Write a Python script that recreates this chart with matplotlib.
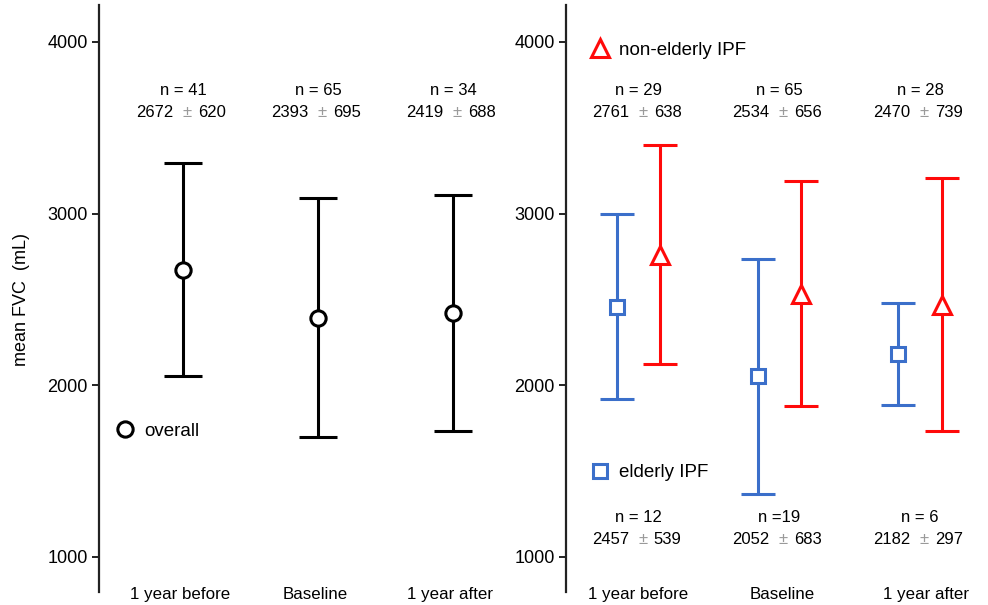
import matplotlib
matplotlib.use("Agg")
import matplotlib.pyplot as plt
from matplotlib.lines import Line2D
from matplotlib.transforms import offset_copy

plt.rcParams['font.family'] = ['Liberation Sans', 'DejaVu Sans']

# ---- data ----
categories = ["1 year before", "Baseline", "1 year after"]
overall_mean = [2672, 2393, 2419]
overall_sd = [620, 695, 688]
overall_n = [41, 65, 34]

elderly_mean = [2457, 2052, 2182]
elderly_sd = [539, 683, 297]
elderly_n_labels = ["n = 12", "n =19", "n = 6"]

nonelderly_mean = [2761, 2534, 2470]
nonelderly_sd = [638, 656, 739]
nonelderly_n = [29, 65, 28]

yticks = [1000, 2000, 3000, 4000]

BLUE = '#3b6fca'
RED = '#ff0a0a'
GRAY_PM = '#9a9a9a'
ANN_FS = 12

fig = plt.figure(figsize=(9.88, 6.05), dpi=100)
H = 605.0
W = 988.0
ax_bottom = (H - 592) / H
ax_height = (592 - 5) / H
axL = fig.add_axes([99 / W, ax_bottom, (520 - 99) / W, ax_height])
axR = fig.add_axes([566 / W, ax_bottom, (985 - 566) / W, ax_height])

ylim = (796, 4215)

def style_axis(ax):
    ax.set_ylim(*ylim)
    for s in ['top', 'right', 'bottom']:
        ax.spines[s].set_visible(False)
    ax.spines['left'].set_linewidth(1.6)
    ax.spines['left'].set_color('#222222')
    ax.set_yticks(yticks)
    ax.set_yticklabels([str(t) for t in yticks], fontsize=13)
    ax.tick_params(axis='y', length=5, width=1.4, pad=3, color='#222222')
    ax.tick_params(axis='x', length=0, pad=-3.5, labelsize=12.2)

def mean_sd_text(ax, x, y, mean, sd, fs=ANN_FS):
    trans = ax.transData
    tl = offset_copy(trans, fig=fig, x=-7, y=0, units='points')
    tm = offset_copy(trans, fig=fig, x=3, y=0, units='points')
    tr = offset_copy(trans, fig=fig, x=11, y=0, units='points')
    ax.text(x, y, f"{mean}", transform=tl, ha='right', va='center', fontsize=fs)
    ax.text(x, y, "±", transform=tm, ha='center', va='center', fontsize=fs, color=GRAY_PM)
    ax.text(x, y, f"{sd}", transform=tr, ha='left', va='center', fontsize=fs)

Y_N_TOP, Y_V_TOP = 3715, 3590
Y_N_BOT, Y_V_BOT = 1228, 1103

# ---- left panel ----
style_axis(axL)
xL = [0, 1, 2]
axL.set_xlim(-0.622, 2.496)
axL.errorbar(xL, overall_mean, yerr=overall_sd, fmt='o', color='black',
             ecolor='black', elinewidth=2.2, capsize=14, capthick=2.2,
             markersize=11, markerfacecolor='white', markeredgewidth=2.2,
             markeredgecolor='black')
axL.set_xticks([x - 0.02 for x in xL])
axL.set_xticklabels(categories)
for x, n, m, s in zip(xL, overall_n, overall_mean, overall_sd):
    axL.text(x, Y_N_TOP, f"n = {n}", ha='center', va='center', fontsize=ANN_FS)
    mean_sd_text(axL, x, Y_V_TOP, m, s)

axL.legend(handles=[Line2D([], [], marker='o', linestyle='none', markersize=11,
                           markerfacecolor='white', markeredgecolor='black',
                           markeredgewidth=2.2, label='overall')],
           loc='center left', bbox_to_anchor=(0.0, 0.274), frameon=False,
           fontsize=13.5, handletextpad=0.0, borderaxespad=0)

# ---- right panel ----
style_axis(axR)
xR = [0, 1, 2]
off = 0.153
axR.set_xlim(-0.515, 2.462)
axR.errorbar([x - off for x in xR], elderly_mean, yerr=elderly_sd, fmt='s', color=BLUE,
             ecolor=BLUE, elinewidth=2.2, capsize=12, capthick=2.2,
             markersize=10, markerfacecolor='white', markeredgewidth=2.2,
             markeredgecolor=BLUE)
axR.errorbar([x + off for x in xR], nonelderly_mean, yerr=nonelderly_sd, fmt='^', color=RED,
             ecolor=RED, elinewidth=2.2, capsize=12, capthick=2.2,
             markersize=12.5, markerfacecolor='white', markeredgewidth=2.2,
             markeredgecolor=RED)
axR.set_xticks([x + 0.02 * x for x in xR])
axR.set_xticklabels(categories)
for x, n, m, s in zip(xR, nonelderly_n, nonelderly_mean, nonelderly_sd):
    axR.text(x, Y_N_TOP, f"n = {n}", ha='center', va='center', fontsize=ANN_FS)
    mean_sd_text(axR, x, Y_V_TOP, m, s)
for x, nl, m, s in zip(xR, elderly_n_labels, elderly_mean, elderly_sd):
    axR.text(x, Y_N_BOT, nl, ha='center', va='center', fontsize=ANN_FS)
    mean_sd_text(axR, x, Y_V_BOT, m, s)

legR1 = axR.legend(handles=[Line2D([], [], marker='^', linestyle='none', markersize=12.5,
                                   markerfacecolor='white', markeredgecolor=RED,
                                   markeredgewidth=2.2, label='non-elderly IPF')],
                   loc='center left', bbox_to_anchor=(0.018, 0.923), frameon=False,
                   fontsize=13.5, handletextpad=0.0, borderaxespad=0)
axR.add_artist(legR1)
axR.legend(handles=[Line2D([], [], marker='s', linestyle='none', markersize=10,
                           markerfacecolor='white', markeredgecolor=BLUE,
                           markeredgewidth=2.2, label='elderly IPF')],
           loc='center left', bbox_to_anchor=(0.019, 0.203), frameon=False,
           fontsize=13.5, handletextpad=0.0, borderaxespad=0)

fig.text(22 / W, 1 - 300 / H, "mean FVC  (mL)", rotation=90, ha='center', va='center',
         fontsize=13)

fig.savefig("out.png", dpi=100)
